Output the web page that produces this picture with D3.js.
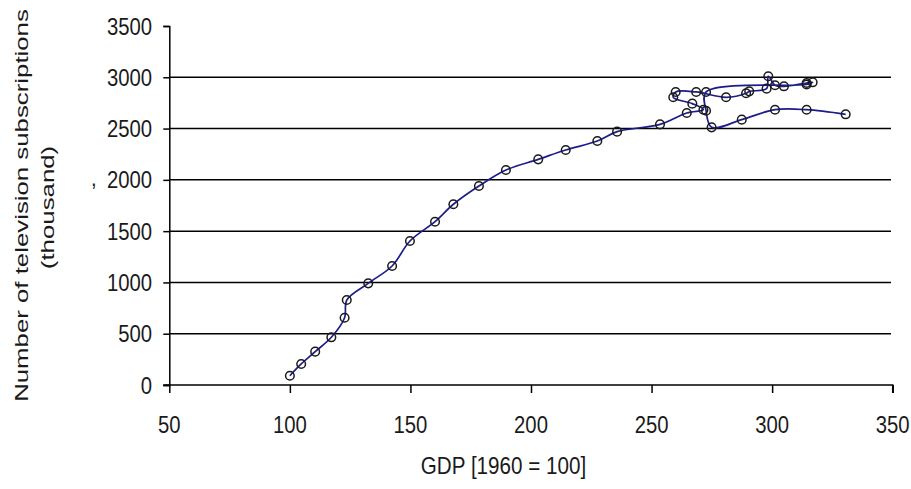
<!DOCTYPE html>
<html>
<head>
<meta charset="utf-8">
<script src="https://cdn.jsdelivr.net/npm/d3@7"></script>
<style>
  html, body { margin: 0; padding: 0; background: #fff; }
  svg { display: block; }
  text { font-family: "Liberation Sans", Arial, sans-serif; fill: #1a1a1a; }
</style>
</head>
<body>
<svg id="chart" width="911" height="489"></svg>
<script>
// ---- data ----
const gdp = [100, 104.7, 110.5, 117.2, 122.7, 123.6, 132.5, 142.4, 149.8, 160.2,
  167.8, 178.4, 189.6, 203, 214.4, 227.5, 235.7, 253.5, 264.6, 271.5,
  266.9, 259, 260, 268.5, 280.9, 289.2, 290.5, 297.7, 298.4, 301.2,
  304.9, 314.3, 316.8, 314.3, 272.6, 272.6, 274.9, 287.4, 301.2, 314.3, 330.5];
const tvSubs = [90, 205, 325, 465, 656, 829, 991, 1160, 1404, 1592,
  1762, 1940, 2096, 2200, 2291, 2379, 2470, 2541, 2652, 2684,
  2743, 2805, 2857, 2857, 2805, 2844, 2863, 2889, 3010, 2922,
  2912, 2944, 2951, 2930, 2857, 2674, 2512, 2587, 2684, 2684, 2639];
const xTicks = [50, 100, 150, 200, 250, 300, 350];
const yTicks = [0, 500, 1000, 1500, 2000, 2500, 3000, 3500];
const xTitle = "GDP [1960 = 100]";
const yTitle1 = "Number of television subscriptions";
const yTitle2 = "(thousand)";

const points = gdp.map((g, i) => ({ x: g, y: tvSubs[i] }));

const svg = d3.select("#chart");
const x = d3.scaleLinear().domain([50, 350]).range([169.3, 892.7]);
const y = d3.scaleLinear().domain([0, 3500]).range([385, 26]);

// gridlines
svg.append("g").selectAll("line")
  .data(yTicks.filter(t => t > 0 && t < 3500))
  .join("line")
  .attr("x1", x(50)).attr("x2", 891)
  .attr("y1", d => y(d)).attr("y2", d => y(d))
  .attr("stroke", "#000").attr("stroke-width", 1.5);

// y axis
const yAxis = d3.axisLeft(y).tickValues(yTicks).tickSize(6).tickFormat("");
const gy = svg.append("g").attr("transform", `translate(${x(50)},0)`).call(yAxis);
gy.selectAll("path, line").attr("stroke", "#000").attr("stroke-width", 1.5);

// x axis
const xAxis = d3.axisBottom(x).tickValues(xTicks).tickSize(8).tickSizeOuter(8).tickFormat("");
const gx = svg.append("g").attr("transform", `translate(0,${y(0)})`).call(xAxis);
gx.selectAll("path, line").attr("stroke", "#000").attr("stroke-width", 1.5);
gx.select("path.domain").attr("d", `M${x(50) - 6},0H${x(350)}V8`);

// tick labels (condensed look)
const sx = 0.845;
svg.append("g").selectAll("g")
  .data(yTicks).join("g")
  .attr("transform", d => `translate(152,${y(d) + 8.5}) scale(${sx},1)`)
  .append("text").attr("text-anchor", "end").attr("font-size", 24).text(d => d);

svg.append("g").selectAll("g")
  .data(xTicks).join("g")
  .attr("transform", d => `translate(${x(d)},432.5) scale(${sx},1)`)
  .append("text").attr("text-anchor", "middle").attr("font-size", 24).text(d => d);

// axis titles
svg.append("g").attr("transform", `translate(503.5,474.3) scale(0.86,1)`)
  .append("text").attr("text-anchor", "middle").attr("font-size", 24).text(xTitle);

svg.append("g").attr("transform", `translate(28.3,205.5) scale(0.72,1) rotate(-90)`)
  .append("text").attr("text-anchor", "middle").attr("font-size", 25.8).text(yTitle1);
svg.append("g").attr("transform", `translate(54,207.5) scale(0.72,1) rotate(-90)`)
  .append("text").attr("text-anchor", "middle").attr("font-size", 25.8).text(yTitle2);

// stray mark in the original
svg.append("g").attr("transform", `translate(91,185.5) scale(${sx},1)`)
  .append("text").attr("font-size", 24).text(",");

// line
const line = d3.line().x(d => x(d.x)).y(d => y(d.y)).curve(d3.curveCatmullRom.alpha(0.5));
svg.append("path").datum(points)
  .attr("d", line)
  .attr("fill", "none")
  .attr("stroke", "#1c1c8c")
  .attr("stroke-width", 1.7);

// markers
svg.append("g").selectAll("circle")
  .data(points).join("circle")
  .attr("cx", d => x(d.x)).attr("cy", d => y(d.y))
  .attr("r", 4.3)
  .attr("fill", "none")
  .attr("stroke", "#1a1a1a")
  .attr("stroke-width", 1.5);
</script>
</body>
</html>
